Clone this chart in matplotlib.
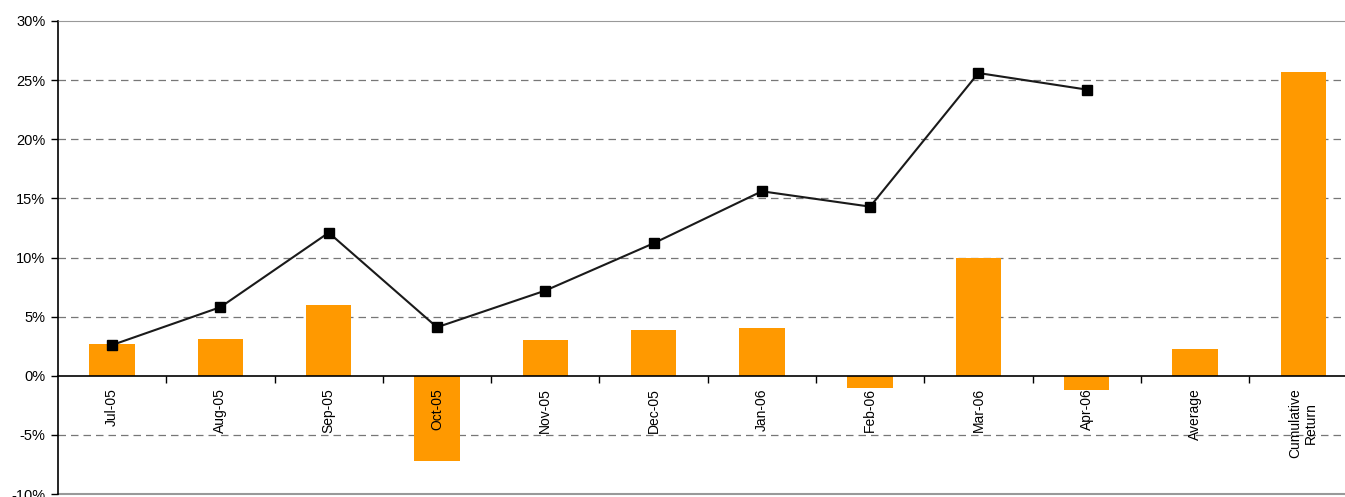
import numpy as np
import matplotlib.pyplot as plt
from matplotlib.ticker import FuncFormatter

plt.rcParams['font.family'] = ['Liberation Sans', 'DejaVu Sans']

categories = ['Jul-05', 'Aug-05', 'Sep-05', 'Oct-05', 'Nov-05', 'Dec-05',
              'Jan-06', 'Feb-06', 'Mar-06', 'Apr-06', 'Average', 'Cumulative\nReturn']
monthly = [2.7, 3.1, 6.0, -7.2, 3.0, 3.9, 4.0, -1.0, 10.0, -1.2, 2.3, 25.7]
cumulative = [2.6, 5.8, 12.1, 4.1, 7.2, 11.2, 15.6, 14.3, 25.6, 24.2]

fig = plt.figure(figsize=(13.45, 4.97), dpi=100)
ax = fig.add_axes([58/1345, 3/497, 1 - 58/1345, (494-21)/497])
ax.set_axisbelow(False)

x = np.arange(len(categories))
ax.bar(x, monthly, width=0.42, color='#FF9900', zorder=2)
ax.plot(x[:len(cumulative)], cumulative, color='#1a1a1a', lw=1.5,
        marker='s', markersize=7, markerfacecolor='black',
        markeredgecolor='black', zorder=3)

ax.set_ylim(-10, 30)
ax.set_xlim(-0.5, -0.5 + (1345-59)/108.2)
ax.set_yticks(np.arange(-10, 31, 5))
ax.yaxis.set_major_formatter(FuncFormatter(lambda v, p: '%d%%' % v))
ax.tick_params(axis='y', length=5, width=1, labelsize=10.5, pad=4, direction='out')

for yv in np.arange(-5, 30, 5):
    if yv != 0:
        ax.axhline(yv, color='#777777', lw=0.9, ls=(0, (6, 4)), zorder=1)

# x axis on zero line
ax.spines['bottom'].set_position(('data', 0))
ax.spines['bottom'].set_color('black')
ax.spines['bottom'].set_linewidth(1.2)
ax.spines['left'].set_linewidth(1.2)
ax.spines['top'].set_color('#999999')
ax.spines['right'].set_visible(False)
ax.axhline(-10, color='#999999', lw=1.5, clip_on=False)

ax.set_xticks(x)
ax.set_xticklabels(categories, rotation=90, fontsize=10, va='top', ha='center',
                   multialignment='center')
ax.set_xticks(x[:-1] + 0.5, minor=True)
ax.tick_params(axis='x', which='major', length=0, pad=9)
ax.tick_params(axis='x', which='minor', length=5, width=1, direction='out')

fig.savefig('out.png', dpi=100)
